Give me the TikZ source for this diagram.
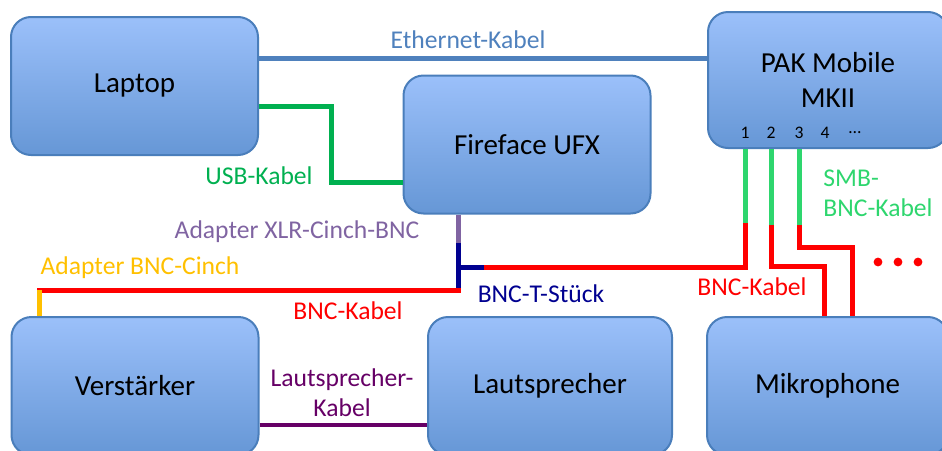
\documentclass[tikz,border=0pt]{standalone}
\usepackage{fontspec}
\setmainfont{Carlito}
\usetikzlibrary{positioning}

\definecolor{boxtop}{RGB}{155,192,250}
\definecolor{boxbot}{RGB}{102,151,214}
\definecolor{boxline}{RGB}{74,126,187}
\definecolor{ethblue}{RGB}{79,129,189}
\definecolor{usbgreen}{RGB}{0,176,80}
\definecolor{xlrpurple}{RGB}{128,100,162}
\definecolor{teenavy}{RGB}{0,0,144}
\definecolor{bncred}{RGB}{255,0,0}
\definecolor{cinchyellow}{RGB}{255,192,0}
\definecolor{smbgreen}{RGB}{46,214,110}
\definecolor{lkpurple}{RGB}{102,0,102}

\begin{document}
\begin{tikzpicture}[x=0.5pt,y=-0.5pt,
    box/.style={draw=boxline,line width=1pt,rounded corners=10pt,
      top color=boxtop,bottom color=boxbot,inner sep=0pt,
      minimum width=123.5pt,minimum height=69pt,align=center,
      font=\fontsize{14.5pt}{17.5pt}\selectfont},
    lbl/.style={inner sep=0pt,align=center,
      font=\fontsize{12.8pt}{15pt}\selectfont},
    port/.style={inner sep=0pt,font=\fontsize{8.8pt}{10pt}\selectfont},
    cable/.style={line width=2.5pt}]

  \useasboundingbox (0,0) rectangle (942,450);
  \clip (0,0) rectangle (942,450);

  % devices
  \node[box] (laptop)   at (134.5,86)  {Laptop};
  \node[box] (fireface) at (527,144.5) {Fireface UFX};
  \node[box,minimum width=120pt,minimum height=68pt] (pak) at (828,80) {PAK Mobile\\MKII};
  \node[box] (amp)      at (135,386)   {Verstärker};
  \node[box,minimum width=122pt] (speaker) at (550,386) {Lautsprecher};
  \node[box,minimum width=120.5pt] (mic)   at (827.5,386) {Mikrophone};

  % channels of the PAK
  \node[port] (p1) at (745,133) {1};
  \node[port] (p2) at (771,133) {2};
  \node[port] (p3) at (799,133) {3};
  \node[port] (p4) at (825,133) {4};
  \node[port] (pdots) at (855,133) {\dots};

  % corner points of the cables
  \coordinate (eth)  at (0,58);
  \coordinate (usb1) at (331,106);
  \coordinate (usb2) at (331,182);
  \coordinate (adp)  at (458,243);
  \coordinate (tmid) at (458,267);
  \coordinate (tend) at (484,267);
  \coordinate (tlow) at (458,290);
  \coordinate (cin)  at (39,290);
  \coordinate (s1)   at (745,223);
  \coordinate (s2)   at (771,225);
  \coordinate (k2)   at (824,266);
  \coordinate (s3)   at (799,225);
  \coordinate (k3)   at (852,247);
  \coordinate (lk)   at (0,425);

  % cables
  \draw[cable,ethblue] (laptop.east |- eth) -- (pak.west |- eth);
  \draw[cable,usbgreen] (laptop.east |- usb1) -- (usb1) -- (usb2) -- (fireface.west |- usb2);
  \draw[cable,xlrpurple] (fireface.south -| adp) -- (adp);
  \draw[cable,teenavy] (adp) -- ([yshift=-1pt]tlow);
  \draw[cable,teenavy] (tmid) -- (tend);
  \draw[cable,bncred] (tend) -- (tend -| s1) -- (s1);
  \draw[cable,bncred] ([xshift=1.25pt]tlow) -- ([xshift=-1.25pt]cin);
  \draw[cable,cinchyellow] (cin) -- (amp.north -| cin);
  \draw[cable,smbgreen] (p1 |- pak.south) -- (s1);
  \draw[cable,smbgreen] (p2 |- pak.south) -- (s2);
  \draw[cable,smbgreen] (p3 |- pak.south) -- (s3);
  \draw[cable,bncred] (s2) |- (k2) -- (mic.north -| k2);
  \draw[cable,bncred] (s3) |- (k3) -- (mic.north -| k3);
  \draw[line width=2pt,lkpurple] (amp.east |- lk) -- (speaker.west |- lk);

  \foreach \dx in {878,898,918}
    \fill[bncred] (\dx,262) circle (2.2pt);

  % labels
  \node[lbl,ethblue]     (lbleth) at (468,40)  {Ethernet-Kabel};
  \node[lbl,usbgreen]    (lblusb) at (259,176) {USB-Kabel};
  \node[lbl,xlrpurple]   (lblxlr) at (297,232) {Adapter XLR-Cinch-BNC};
  \node[lbl,cinchyellow] (lblcin) at (140,268) {Adapter BNC-Cinch};
  \node[lbl,bncred]      (lblbnc) at (348,311) {BNC-Kabel};
  \node[lbl,teenavy]     (lbltee) at (541,294) {BNC-T-Stück};
  \node[lbl,bncred]      (lblmic) at (752,287) {BNC-Kabel};
  \node[lbl,smbgreen,align=left] (lblsmb) at (878,193) {SMB-\\BNC-Kabel};
  \node[lbl,lkpurple]    (lbllk)  at (342,393) {Lautsprecher-\\Kabel};

\end{tikzpicture}
\end{document}
